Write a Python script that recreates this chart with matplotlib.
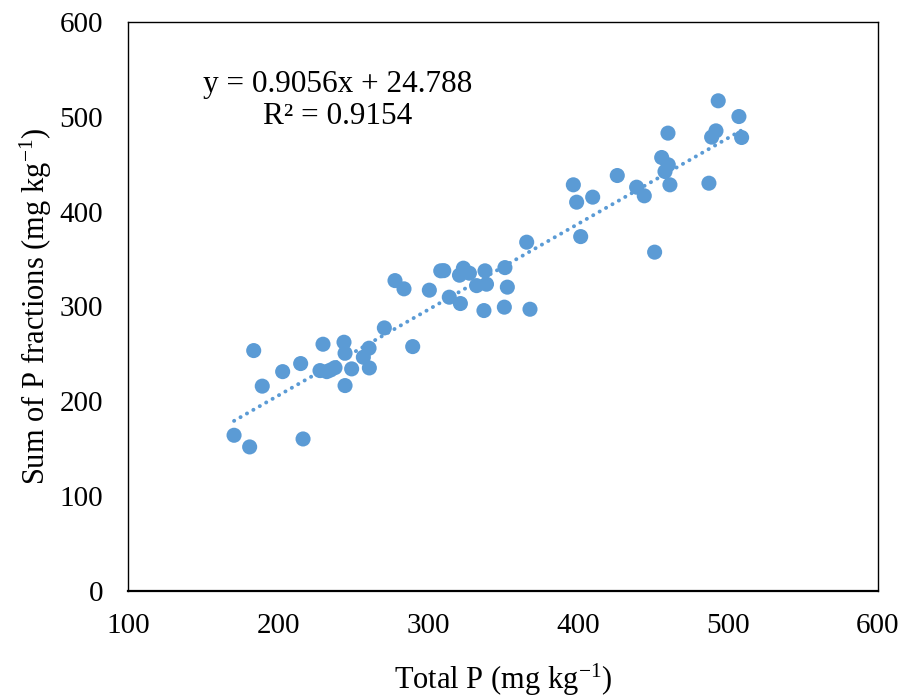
import matplotlib
matplotlib.use("Agg")
import matplotlib.pyplot as plt
import numpy as np

plt.rcParams["font.family"] = ["Liberation Serif", "DejaVu Serif"]
plt.rcParams["mathtext.fontset"] = "custom"
plt.rcParams["mathtext.rm"] = "Liberation Serif"
plt.rcParams["mathtext.it"] = "Liberation Serif:italic"

# Total P vs. sum of P fractions (mg kg-1)
total_p = [170.7, 181.1, 183.8, 189.5, 203.1, 215.1, 216.7, 228.0, 230.0, 232.5,
           235.0, 238.0, 244.0, 244.7, 244.7, 249.1, 256.9, 260.7, 260.9, 270.9,
           278.0, 284.0, 289.8, 300.9, 308.5, 310.5, 314.2, 321.0, 321.6, 323.6,
           327.6, 332.4, 337.3, 338.0, 339.0, 350.9, 351.3, 352.9, 365.8, 368.0,
           396.9, 399.1, 401.8, 409.8, 426.2, 439.1, 444.2, 451.1, 455.8, 458.0,
           460.0, 460.2, 461.3, 487.3, 489.1, 492.0, 493.5, 507.3, 509.1]
sum_fractions = [164.2, 151.9, 253.5, 216.0, 231.3, 239.8, 160.3, 232.4, 260.2, 231.3,
                 233.0, 235.5, 262.3, 250.7, 216.6, 234.2, 246.5, 256.0, 235.2, 277.4,
                 327.3, 318.6, 257.7, 317.2, 337.6, 337.8, 309.8, 333.0, 303.1, 340.4,
                 335.1, 322.0, 295.7, 337.6, 323.5, 299.3, 341.0, 320.4, 367.8, 297.1,
                 428.3, 410.0, 373.7, 415.3, 438.1, 425.8, 416.7, 357.3, 457.1, 442.3,
                 482.8, 449.4, 428.3, 430.0, 478.6, 485.2, 516.9, 500.3, 478.2]

# Linear trend reported on the chart
slope, intercept, r2 = 0.9056, 24.788, 0.9154

x_ticks = [100, 200, 300, 400, 500, 600]
y_ticks = [0, 100, 200, 300, 400, 500, 600]

blue = "#5B9BD5"

fig = plt.figure(figsize=(8.99, 6.96), dpi=100)
ax = fig.add_axes([0.1424, 0.1509, 0.8342, 0.8175])

ax.scatter(total_p, sum_fractions, s=118, color=blue, edgecolors="none", zorder=3)

xs = np.array([min(total_p), max(total_p)])
ax.plot(xs, slope * xs + intercept, color=blue, linewidth=2.8,
        linestyle=(0, (0.05, 1.85)), dash_capstyle="round", zorder=2)

ax.set_xlim(100, 600)
ax.set_ylim(0, 600)
ax.set_xticks(x_ticks)
ax.set_yticks(y_ticks)
ax.tick_params(axis="both", length=0, labelsize=21)
ax.tick_params(axis="x", pad=16)
ax.tick_params(axis="y", pad=18)

for side, sp in ax.spines.items():
    sp.set_color("black")
    sp.set_linewidth(1.0)
ax.spines["bottom"].set_linewidth(1.6)

ax.set_xlabel("Total P (mg kg$^{-1}$)", fontsize=22, labelpad=16)
ax.set_ylabel("Sum of P fractions (mg kg$^{-1}$)", fontsize=22, labelpad=4)

ax.text(0.279, 0.862, f"y = {slope}x + {intercept}\nR\u00b2 = {r2}",
        transform=ax.transAxes, ha="center", va="center", fontsize=22.5,
        linespacing=1.1, multialignment="center")

fig.savefig("out.png", dpi=100)
